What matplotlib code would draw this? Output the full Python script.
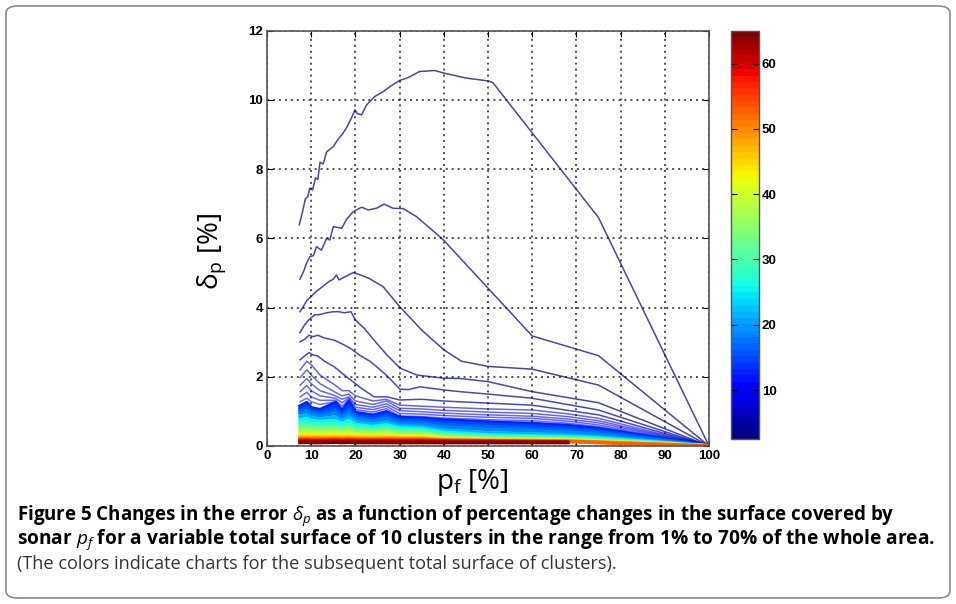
import numpy as np
import matplotlib
matplotlib.use('Agg')
import matplotlib.pyplot as plt
from matplotlib.patches import FancyBboxPatch
from matplotlib.colors import Normalize

plt.rcParams['mathtext.fontset'] = 'custom'
plt.rcParams['mathtext.rm'] = 'Open Sans'
plt.rcParams['mathtext.it'] = 'Open Sans:italic'
plt.rcParams['mathtext.bf'] = 'Open Sans:bold'

nan = np.nan

# curves for the smallest total surfaces (1..6)
c1_x = [7.3, 8, 8.7, 9.2, 9.7, 10.3, 11, 11.5, 12, 12.7, 13.5, 14.5, 15, 16, 17, 18, 19, 19.9, 20.5, 21.4,
        22.5, 24.4, 26.3, 28, 30, 32, 34.5, 37.9, 40.2, 45.1, 50, 51.1, 75, 100]
c1_y = [6.39, 6.75, 7.15, 7.2, 7.45, 7.4, 7.75, 7.7, 8.2, 8.15, 8.5, 8.6, 8.65, 8.85, 9.0, 9.2, 9.45, 9.71, 9.6, 9.57,
        9.85, 10.1, 10.24, 10.4, 10.56, 10.65, 10.82, 10.85, 10.77, 10.63, 10.55, 10.5, 6.6, 0]
c2_x = [7.45, 8.3, 9, 9.7, 10.5, 11.2, 12.3, 13.5, 14.2, 15, 16.9, 18, 19.5, 21.4, 22.9, 24.8, 26.5, 28.5,
        30.8, 33.8, 39.8, 60, 75, 100]
c2_y = [4.82, 5.05, 5.3, 5.47, 5.5, 5.76, 5.66, 6.0, 5.95, 6.34, 6.29, 6.55, 6.77, 6.9, 6.82, 6.87, 6.99, 6.87,
        6.86, 6.63, 5.97, 3.18, 2.61, 0]
c3_x = [7.45, 8.3, 9, 10, 11, 12, 13, 14, 15, 15.7, 16.3, 17.5, 19.5, 21, 23, 26.3, 30, 35, 40, 44, 50, 60, 75, 100]
c3_y = [3.88, 4.05, 4.2, 4.32, 4.45, 4.55, 4.65, 4.75, 4.82, 4.94, 4.8, 4.88, 5.01, 4.95, 4.85, 4.6, 4.03, 3.35,
        2.78, 2.45, 2.3, 2.22, 1.76, 0]
c4_x = [7.45, 8.5, 9.5, 10.8, 12, 13.5, 15, 16.2, 17.5, 19, 20, 22, 24.2, 27, 30.1, 33.9, 39.9, 43.7, 50, 60, 75, 100]
c4_y = [3.27, 3.5, 3.65, 3.79, 3.8, 3.85, 3.88, 3.88, 3.85, 3.88, 3.64, 3.4, 3.06, 2.65, 2.25, 2.05, 1.96, 1.95,
        1.86, 1.57, 1.25, 0]
c5_x = [7.45, 8.5, 9.5, 10.4, 11.5, 13, 15.2, 17, 18.9, 21, 23.4, 27, 30.1, 32, 34.6, 40, 43.7, 50, 60, 75, 100]
c5_y = [3.01, 3.08, 3.2, 3.16, 3.2, 3.12, 3.06, 2.95, 2.82, 2.62, 2.44, 2.05, 1.64, 1.63, 1.71, 1.62, 1.57, 1.5,
        1.38, 1.04, 0]
c6_x = [7.45, 8.5, 9.5, 10.4, 11.5, 13, 15.2, 17, 18.9, 21, 24.2, 27.2, 30, 35, 40, 50, 60, 75, 100]
c6_y = [2.49, 2.6, 2.7, 2.63, 2.6, 2.45, 2.29, 2.1, 1.91, 1.7, 1.42, 1.42, 1.33, 1.35, 1.3, 1.24, 1.18, 0.9, 0]

# shared p_f grid of the denser curves
xb = [7.5, 9, 10, 12, 15.5, 17, 18.5, 20, 24, 27, 30, 35, 40, 50, 60, 68, 75, 100]

thin_s = [7, 8, 9, 10, 11, 12]
thin_y = [
    [2.20, 2.45, 2.35, 2.05, 1.75, 1.60, 1.60, 1.45, 1.30, 1.35, 1.18, 1.15, 1.12, 1.07, 1.04, 0.93, 0.80, 0],
    [1.98, 2.20, 2.05, 1.80, 1.55, 1.45, 1.50, 1.30, 1.20, 1.30, 1.09, 1.07, 1.03, 0.98, 0.94, 0.85, 0.73, 0],
    [1.76, 1.95, 1.80, 1.60, 1.45, 1.35, 1.42, 1.20, 1.12, 1.22, 1.02, 0.99, 0.95, 0.90, 0.86, 0.78, 0.67, 0],
    [1.57, 1.75, 1.60, 1.45, 1.38, 1.25, 1.38, 1.12, 1.05, 1.15, 0.94, 0.92, 0.88, 0.83, 0.80, 0.72, 0.61, 0],
    [1.42, 1.55, 1.42, 1.32, 1.32, 1.15, 1.34, 1.05, 0.98, 1.08, 0.87, 0.85, 0.81, 0.76, 0.73, 0.66, 0.56, 0],
    [1.28, 1.38, 1.28, 1.20, 1.28, 1.08, 1.30, 1.00, 0.92, 1.02, 0.82, 0.80, 0.77, 0.71, 0.68, 0.61, 0.52, 0],
]

band_s = [13, 15, 17, 19, 22, 25, 28, 31, 34, 37, 40, 43, 46, 50, 53, 56, 59, 62, 65]
band_y = [
    [1.15, 1.25, 1.10, 1.05, 1.25, 1.00, 1.28, 0.96, 0.88, 0.98, 0.82, 0.80, 0.75, 0.69, 0.64, 0.59, 0.50, 0],
    [1.08, 1.17, 1.04, 0.99, 1.14, 0.94, 1.16, 0.90, 0.83, 0.92, 0.77, 0.75, 0.69, 0.63, 0.58, 0.53, 0.45, 0],
    [1.01, 1.09, 0.98, 0.93, 1.04, 0.88, 1.05, 0.84, 0.77, 0.85, 0.71, 0.69, 0.62, 0.56, 0.51, 0.47, 0.40, 0],
    [0.94, 1.00, 0.91, 0.87, 0.94, 0.81, 0.95, 0.78, 0.71, 0.78, 0.65, 0.63, 0.55, 0.48, 0.44, 0.40, 0.34, 0],
    [0.84, 0.89, 0.83, 0.79, 0.83, 0.73, 0.84, 0.70, 0.63, 0.69, 0.58, 0.56, 0.46, 0.38, 0.35, 0.32, 0.27, 0],
    [0.75, 0.79, 0.74, 0.71, 0.73, 0.65, 0.74, 0.62, 0.56, 0.61, 0.52, 0.50, 0.40, 0.32, 0.29, 0.27, 0.23, 0],
    [0.66, 0.69, 0.65, 0.63, 0.64, 0.58, 0.65, 0.55, 0.50, 0.54, 0.46, 0.45, 0.35, 0.28, 0.26, 0.24, 0.20, 0],
    [0.57, 0.60, 0.57, 0.55, 0.56, 0.51, 0.57, 0.49, 0.45, 0.48, 0.41, 0.40, 0.31, 0.25, 0.23, 0.21, 0.18, 0],
    [0.49, 0.51, 0.49, 0.48, 0.49, 0.45, 0.49, 0.43, 0.40, 0.42, 0.37, 0.36, 0.28, 0.23, 0.21, 0.19, 0.16, 0],
    [0.42, 0.44, 0.42, 0.41, 0.42, 0.39, 0.42, 0.38, 0.35, 0.37, 0.33, 0.32, 0.25, 0.21, 0.19, 0.18, 0.15, 0],
    [0.35, 0.36, 0.35, 0.34, 0.35, 0.33, 0.35, 0.33, 0.31, 0.32, 0.30, 0.29, 0.23, 0.19, 0.18, 0.17, 0.14, 0],
    [0.31, 0.32, 0.31, 0.30, 0.31, 0.30, 0.31, 0.29, 0.28, 0.29, 0.27, 0.26, 0.21, 0.18, 0.17, 0.16, 0.13, 0],
    [0.27, 0.28, 0.27, 0.27, 0.27, 0.26, 0.27, 0.26, 0.25, 0.26, 0.24, 0.24, 0.19, 0.17, 0.16, 0.15, 0.12, 0],
    [0.22, 0.23, 0.23, 0.22, 0.23, 0.22, 0.23, 0.22, 0.21, 0.22, 0.21, 0.21, 0.18, 0.16, 0.15, 0.14, 0.11, 0],
    [0.20, 0.21, 0.20, 0.20, 0.20, 0.20, 0.20, 0.20, 0.19, 0.20, 0.19, 0.19, 0.16, 0.15, 0.14, 0.13, 0.10, 0],
    [0.17, 0.18, 0.17, 0.17, 0.18, 0.17, 0.18, 0.17, 0.17, 0.17, 0.17, 0.17, 0.15, 0.14, 0.13, 0.12, nan, nan],
    [0.15, 0.16, 0.15, 0.15, 0.16, 0.15, 0.16, 0.15, 0.15, 0.15, 0.15, 0.15, 0.14, 0.13, 0.12, 0.11, nan, nan],
    [0.12, 0.13, 0.12, 0.12, 0.13, 0.12, 0.13, 0.12, 0.12, 0.13, 0.12, 0.12, 0.12, 0.12, 0.11, 0.11, nan, nan],
    [0.10, 0.11, 0.10, 0.10, 0.11, 0.10, 0.11, 0.10, 0.10, 0.10, 0.10, 0.10, 0.10, 0.10, 0.10, 0.10, nan, nan],
]

x_ticks = [0, 10, 20, 30, 40, 50, 60, 70, 80, 90, 100]
y_ticks = [0, 2, 4, 6, 8, 10, 12]
cb_ticks = [10, 20, 30, 40, 50, 60]

caption1 = r'Figure 5 Changes in the error $\delta_p$ as a function of percentage changes in the surface covered by'
caption2 = r'sonar $p_f$ for a variable total surface of 10 clusters in the range from 1% to 70% of the whole area.'
caption3 = '(The colors indicate charts for the subsequent total surface of clusters).'

cmap = plt.get_cmap('jet', 64)
norm = Normalize(vmin=2.5, vmax=65)

fig = plt.figure(figsize=(9.56, 6.04), dpi=100)
fig.patch.set_facecolor('white')

# rounded frame round the whole figure
frame = FancyBboxPatch((6/956, 6/604), 944/956, 592/604, boxstyle='round,pad=0,rounding_size=0.012',
                       transform=fig.transFigure, fill=False, edgecolor='#8a8a8a', lw=1.2)
fig.patches.append(frame)

ax = fig.add_axes([267/956, 1 - 446/604, 442/956, 415.3/604])

top = [(1, c1_x, c1_y), (2, c2_x, c2_y), (3, c3_x, c3_y), (4, c4_x, c4_y), (5, c5_x, c5_y), (6, c6_x, c6_y)]
for s, xs, ys in top:
    ax.plot(xs, ys, color=cmap(norm(s)), lw=1.1, alpha=0.72)
for s, ys in zip(thin_s, thin_y):
    ax.plot(xb, ys, color=cmap(norm(s)), lw=1.1, alpha=0.6)
for s, ys in zip(band_s, band_y):
    ax.plot(xb, ys, color=cmap(norm(s)), lw=2.6, solid_joinstyle='round')

ax.set_xlim(0, 100)
ax.set_ylim(0, 12)
ax.set_xticks(x_ticks)
ax.set_yticks(y_ticks)
ax.grid(True, color='#222222', linestyle=(0, (1.3, 2.6)), lw=1.1)
ax.tick_params(direction='in', top=True, right=True, length=4, width=0.8, labelsize=9.5, pad=3)
for lab in ax.get_xticklabels() + ax.get_yticklabels():
    lab.set_fontweight('bold')
    lab.set_family('Liberation Sans')
for sp in ax.spines.values():
    sp.set_color('#555555')
    sp.set_linewidth(1.2)

ax.set_xlabel(r'$\mathrm{p_f}$ [%]', fontsize=20, family='Open Sans')
ax.xaxis.set_label_coords(0.464, -0.05)
ax.set_ylabel(r'$\mathrm{\delta_p}$ [%]', fontsize=20, family='Open Sans')
ax.yaxis.set_label_coords(-0.088, 0.47)

cax = fig.add_axes([731/956, 1 - 439/604, 28/956, 408/604])
sm = plt.cm.ScalarMappable(norm=norm, cmap=cmap)
cb = fig.colorbar(sm, cax=cax, ticks=cb_ticks)
cb.outline.set_edgecolor('#555555')
cb.outline.set_linewidth(1.0)
cax.tick_params(direction='in', left=True, right=True, length=4, width=0.8, labelsize=9.5, pad=2)
for lab in cax.get_yticklabels():
    lab.set_fontweight('bold')
    lab.set_family('Liberation Sans')

fig.text(17/956, 1 - 516/604, caption1, fontsize=13.5, fontweight='bold', family='Open Sans', va='center')
fig.text(17/956, 1 - 540/604, caption2, fontsize=13.8, fontweight='bold', family='Open Sans', va='center')
fig.text(17/956, 1 - 564/604, caption3, fontsize=13.1, family='Open Sans', color='#333333', va='center')

fig.savefig('out.png', dpi=100)
